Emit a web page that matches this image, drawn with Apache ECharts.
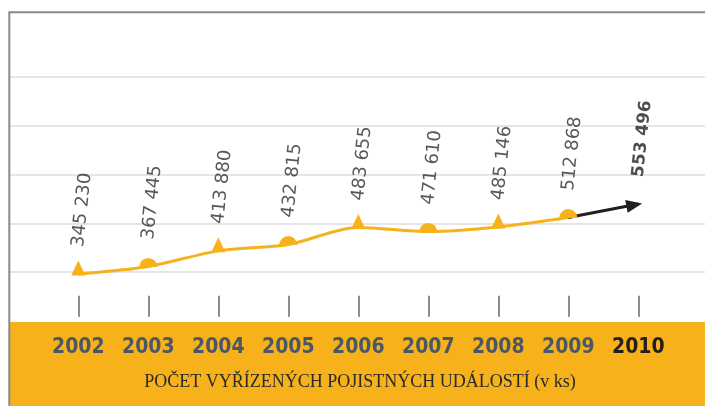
<!DOCTYPE html>
<html>
<head>
<meta charset="utf-8">
<script src="https://cdn.jsdelivr.net/npm/echarts@6/dist/echarts.min.js"></script>
<style>
  html, body { margin: 0; padding: 0; background: #fff; }
</style>
</head>
<body>
<div id="chart" style="width: 705px; height: 406px;"></div>
<script>
// roky a počty vyřízených pojistných událostí
const years = ["2002", "2003", "2004", "2005", "2006", "2007", "2008", "2009", "2010"];
const claims = [345230, 367445, 413880, 432815, 483655, 471610, 485146, 512868, 553496];
const chartTitle = "POČET VYŘÍZENÝCH POJISTNÝCH UDÁLOSTÍ (v ks)";

const ORANGE = "#F7B21B";
const DARK = "#231F20";
const last = claims.length - 1;

// půlkruh pro liché roky
const dome = "path://M0,10A10,10,0,0,1,20,10Z";

function fmt(v) {
  return String(v).replace(/\B(?=(\d{3})+(?!\d))/g, " ");
}

let myChart = echarts.init(document.getElementById("chart"));

myChart.setOption({
  backgroundColor: "#fff",
  animation: false,
  title: {
    text: chartTitle,
    left: 360,
    textAlign: "center",
    top: 373,
    padding: 0,
    textStyle: {
      fontFamily: "Liberation Serif",
      fontWeight: "normal",
      fontSize: 18,
      color: "#2a2a2a"
    }
  },
  graphic: [
    {
      // oranžový pás dole
      type: "rect",
      z: 0,
      shape: { x: 9, y: 322, width: 720, height: 100 },
      style: { fill: ORANGE }
    },
    {
      // šedý rámeček
      type: "rect",
      z: 100,
      shape: { x: 9.3, y: 12.3, width: 800, height: 500 },
      style: { fill: "none", stroke: "#8A8A8A", lineWidth: 2 }
    }
  ],
  grid: [
    { left: 43.3, right: 31.7, top: 77, bottom: 85.25 },
    // vodorovné čáry přes celou šířku
    { left: 10, right: 0, top: 77, bottom: 85.25 }
  ],
  xAxis: [
    {
      type: "category",
      gridIndex: 0,
      data: years,
      boundaryGap: true,
      offset: -4,
      axisLine: { show: false },
      axisTick: {
        show: true,
        inside: true,
        length: 21,
        alignWithLabel: true,
        lineStyle: { color: "#8C8C8C", width: 2 }
      },
      axisLabel: {
        margin: 20,
        fontFamily: "DejaVu Sans Condensed",
        fontWeight: "bold",
        fontSize: 21,
        color: function(value, index) {
          return index === last ? DARK : "#4A5866";
        }
      }
    },
    {
      type: "value",
      gridIndex: 1,
      min: 0,
      max: 1,
      show: false
    }
  ],
  yAxis: [
    {
      // jen vodorovné čáry
      type: "value",
      gridIndex: 1,
      min: 0,
      max: 5,
      interval: 1,
      axisLine: { show: false },
      axisTick: { show: false },
      axisLabel: { show: false },
      splitLine: {
        show: true,
        showMinLine: false,
        lineStyle: { color: "#E5E5E5", width: 2 }
      }
    },
    {
      type: "value",
      gridIndex: 0,
      min: 206000,
      max: 931000,
      show: false,
      splitLine: { show: false }
    }
  ],
  series: [
    {
      name: "2009-2010",
      type: "line",
      xAxisIndex: 0,
      yAxisIndex: 1,
      z: 2,
      lineStyle: { color: DARK, width: 3 },
      itemStyle: { color: DARK },
      data: claims.map(function(v, i) {
        if (i < last - 1) return "-";
        if (i === last) {
          return {
            value: v,
            symbol: "triangle",
            symbolSize: [13, 16],
            symbolRotate: -79,
            symbolOffset: [-4, 1]
          };
        }
        return { value: v, symbol: "none" };
      })
    },
    {
      name: "2002-2009",
      type: "line",
      xAxisIndex: 0,
      yAxisIndex: 1,
      z: 3,
      smooth: 0.3,
      lineStyle: { color: ORANGE, width: 3 },
      itemStyle: { color: ORANGE },
      data: claims.map(function(v, i) {
        if (i === last) return "-";
        if (i % 2 === 0) {
          return { value: v, symbol: "triangle", symbolSize: [14, 15], symbolOffset: [0, -6] };
        }
        return { value: v, symbol: dome, symbolSize: [18, 9], symbolKeepAspect: false, symbolOffset: [0, -4] };
      })
    },
    {
      name: "popisky",
      type: "scatter",
      xAxisIndex: 0,
      yAxisIndex: 1,
      symbolSize: 0,
      z: 5,
      label: {
        show: true,
        position: "top",
        distance: 27,
        rotate: 84,
        align: "left",
        verticalAlign: "middle",
        fontFamily: "DejaVu Sans",
        fontSize: 18,
        color: "#2e2e2e",
        formatter: function(p) {
          return fmt(p.value);
        }
      },
      data: claims.map(function(v, i) {
        if (i === last) {
          return { value: v, label: { fontWeight: "bold", fontSize: 17, color: DARK } };
        }
        return v;
      })
    }
  ]
});
</script>
</body>
</html>
